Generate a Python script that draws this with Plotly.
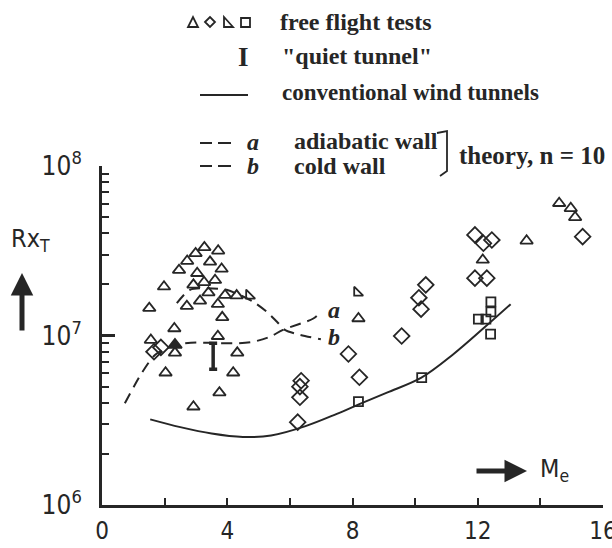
import plotly.graph_objects as go

# ---------------- data (Mach number Me, transition Reynolds number Rx_T) -------------
tri_me = [3.27, 3.71, 2.99, 2.72, 3.45, 2.46, 3.82, 1.98, 3.04, 3.26, 3.61, 2.92, 3.40,
          3.93, 4.30, 1.51, 2.71, 3.13, 3.70, 3.84, 2.31, 3.70, 1.56, 4.32, 2.33, 2.03,
          4.19, 3.75, 2.92, 8.19, 14.60, 14.97, 15.11, 13.56, 12.16]
tri_r = [3.31e7, 3.16e7, 3.05e7, 2.75e7, 2.72e7, 2.43e7, 2.47e7, 1.94e7, 2.33e7, 2.06e7,
         2.12e7, 1.99e7, 1.79e7, 1.73e7, 1.72e7, 1.45e7, 1.49e7, 1.60e7, 1.53e7, 1.28e7,
         1.10e7, 9.9e6, 9.4e6, 7.9e6, 7.9e6, 6.03e6, 6.03e6, 4.60e6, 3.80e6, 1.26e7,
         6.03e7, 5.63e7, 4.98e7, 3.62e7, 2.79e7]

rtri_me = [4.70, 8.15]
rtri_r = [1.72e7, 1.79e7]

filled_me = [2.33]
filled_r = [8.8e6]

dia_me = [1.66, 1.88, 7.87, 8.22, 6.36, 6.32, 6.32, 6.25, 9.57, 10.34, 10.12, 10.19,
          11.91, 12.18, 12.45, 11.91, 12.29, 15.35]
dia_r = [8.02e6, 8.51e6, 7.78e6, 5.67e6, 5.41e6, 4.99e6, 4.32e6, 3.08e6, 9.93e6, 1.99e7,
         1.67e7, 1.43e7, 3.92e7, 3.50e7, 3.66e7, 2.18e7, 2.18e7, 3.83e7]

sq_me = [8.19, 10.21, 12.42, 12.42, 12.02, 12.26, 12.41]
sq_r = [4.07e6, 5.64e6, 1.58e7, 1.38e7, 1.25e7, 1.25e7, 1.02e7]

quiet_me = [3.55]
quiet_lo = [6.32e6]
quiet_hi = [9.0e6]

conv_me = [1.54, 2.5, 3.5, 4.5, 5.4, 6.5, 7.5, 8.2, 9.1, 10.2, 11.2, 12.2, 13.05]
conv_r = [3.2e6, 2.88e6, 2.64e6, 2.52e6, 2.57e6, 2.92e6, 3.45e6, 3.92e6, 4.6e6, 5.64e6,
          7.7e6, 1.11e7, 1.53e7]

a_me = [0.73, 1.27, 1.69, 2.17, 2.49, 3.02, 3.77, 4.30, 4.83, 5.37, 5.78, 6.75, 6.99]
a_r = [3.98e6, 6.01e6, 7.67e6, 8.59e6, 8.91e6, 9.08e6, 9.0e6, 9.0e6, 9.19e6, 9.84e6,
       1.08e7, 1.26e7, 1.38e7]

b_me = [2.39, 2.81, 3.34, 3.98, 4.41, 4.83, 5.26, 5.58, 5.84, 6.32, 6.99]
b_r = [1.55e7, 1.86e7, 1.90e7, 1.86e7, 1.73e7, 1.58e7, 1.38e7, 1.21e7, 1.08e7, 1.01e7, 9.5e6]

x_ticks = [0, 4, 8, 12, 16]
x_ticktext = ["0", "4", "8", "12", "16"]
x_minor = [2, 6, 10, 14]
y_ticks = [1e6, 1e7, 1e8]
y_ticktext = ["10<sup>6</sup>", "10<sup>7</sup>", "10<sup>8</sup>"]
y_minor = [k * 10 ** e for e in (6, 7) for k in range(2, 10)]

# ---------------- layout geometry ----------------
FW, FH = 612, 548
ML, MR, MT, MB = 102, 9, 166, 43
PW, PH = FW - ML - MR, FH - MT - MB


def px(x):
    return (x - ML) / PW


def py(y):
    return (FH - MB - y) / PH


INK = "#262626"
SANS = "Liberation Sans Narrow, DejaVu Sans Condensed, Arial Narrow, sans-serif"
SERIF = "Liberation Serif, Times New Roman, serif"

fig = go.Figure()

# conventional wind tunnels
fig.add_trace(go.Scatter(x=conv_me, y=conv_r, mode="lines",
                         line=dict(color=INK, width=2, shape="spline", smoothing=1.0)))
# theory curves
fig.add_trace(go.Scatter(x=a_me, y=a_r, mode="lines",
                         line=dict(color=INK, width=2, dash="11px,7px", shape="spline", smoothing=0.8)))
fig.add_trace(go.Scatter(x=b_me, y=b_r, mode="lines",
                         line=dict(color=INK, width=2, dash="11px,7px", shape="spline", smoothing=0.8)))

mk_line = dict(color=INK, width=1.8)
fig.add_trace(go.Scatter(x=tri_me, y=tri_r, mode="markers",
                         marker=dict(symbol="triangle-up-open", size=11, color=INK, line=mk_line)))
fig.add_trace(go.Scatter(x=rtri_me, y=rtri_r, mode="markers",
                         marker=dict(symbol="triangle-sw-open", size=10, color=INK, line=mk_line)))
fig.add_trace(go.Scatter(x=filled_me, y=filled_r, mode="markers",
                         marker=dict(symbol="triangle-up", size=12, color=INK, line=mk_line)))
fig.add_trace(go.Scatter(x=dia_me, y=dia_r, mode="markers",
                         marker=dict(symbol="diamond-open", size=12, color=INK, line=mk_line)))
fig.add_trace(go.Scatter(x=sq_me, y=sq_r, mode="markers",
                         marker=dict(symbol="square-open", size=9, color=INK, line=mk_line)))
# quiet tunnel bar
fig.add_trace(go.Scatter(x=quiet_me, y=quiet_lo, mode="markers",
                         marker=dict(size=1, color="rgba(0,0,0,0)"),
                         error_y=dict(type="data", symmetric=False,
                                      array=[h - l for h, l in zip(quiet_hi, quiet_lo)],
                                      arrayminus=[0] * len(quiet_lo),
                                      color=INK, thickness=3.5, width=4)))

annotations = []


def text(x, y, s, size=24, family=SERIF, anchor="left", **kw):
    annotations.append(dict(x=px(x), y=py(y), xref="paper", yref="paper", text=s,
                            showarrow=False, xanchor=anchor, yanchor="middle",
                            font=dict(family=family, size=size, color=INK), **kw))


# legend texts
text(278, 22, "<b>free flight tests</b>")
text(280, 56, "<b>\"quiet tunnel\"</b>")
text(280, 93, "<b>conventional wind tunnels</b>", size=23)
text(292, 141, "<b>adiabatic wall</b>")
text(292, 166, "<b>cold wall</b>")
text(457, 155, "<b>theory, n = 10</b>", size=25)
text(243, 57, "<b>I</b>", size=27, anchor="center")
text(245, 142, "<b><i>a</i></b>", size=24)
text(245, 166, "<b><i>b</i></b>", size=24)
# curve labels
text(326, 310, "<b><i>a</i></b>", size=24)
text(326, 337, "<b><i>b</i></b>", size=24)
# axis titles
text(30, 240, "Rx<sub>T</sub>", size=25, family=SANS, anchor="center")
text(538, 470, "M<sub>e</sub>", size=25, family=SANS)

# arrows
annotations.append(dict(x=px(527), y=py(471), xref="paper", yref="paper", text="",
                        showarrow=True, ax=-52, ay=0, arrowhead=2, arrowsize=0.9,
                        arrowwidth=5, arrowcolor=INK))
annotations.append(dict(x=px(22), y=py(273), xref="paper", yref="paper", text="",
                        showarrow=True, ax=0, ay=59, arrowhead=2, arrowsize=0.9,
                        arrowwidth=5, arrowcolor=INK))

shapes = []
lw = dict(color=INK, width=1.8)


def path(d):
    shapes.append(dict(type="path", xref="paper", yref="paper", path=d, line=lw))


def P(x, y):
    return f"{px(x):.5f},{py(y):.5f}"


# legend glyphs row 1
path(f"M{P(188, 27)} L{P(198, 27)} L{P(193, 17)} Z")
path(f"M{P(205, 22)} L{P(210, 17)} L{P(215, 22)} L{P(210, 27)} Z")
path(f"M{P(224, 17)} L{P(224, 27)} L{P(233, 27)} Z")
path(f"M{P(241, 18)} L{P(250, 18)} L{P(250, 27)} L{P(241, 27)} Z")
# solid line
shapes.append(dict(type="line", xref="paper", yref="paper", x0=px(200), x1=px(248),
                   y0=py(95), y1=py(95), line=dict(color=INK, width=2)))
# dashes
for yy in (143, 166):
    for x0, x1 in ((200, 212), (218, 231)):
        shapes.append(dict(type="line", xref="paper", yref="paper", x0=px(x0), x1=px(x1),
                           y0=py(yy), y1=py(yy), line=dict(color=INK, width=2)))
# bracket
path(f"M{P(437, 133)} L{P(447, 131)} L{P(447, 171)} L{P(440, 176)}")

fig.update_layout(
    width=FW, height=FH,
    margin=dict(l=ML, r=MR, t=MT, b=MB, pad=0, autoexpand=False),
    paper_bgcolor="white", plot_bgcolor="white",
    showlegend=False,
    annotations=annotations, shapes=shapes,
    xaxis=dict(range=[0, 16], tickmode="array", tickvals=x_ticks, ticktext=x_ticktext,
               ticks="inside", ticklen=7, tickwidth=2, tickcolor=INK,
               showline=True, linewidth=3, linecolor=INK, showgrid=False, zeroline=False,
               ticklabelstandoff=2, automargin=False, ticklabeloverflow="allow",
               tickfont=dict(family=SANS, size=24, color=INK),
               minor=dict(tickmode="array", tickvals=x_minor, ticks="inside", ticklen=7,
                          tickwidth=2, tickcolor=INK, showgrid=False)),
    yaxis=dict(type="log", range=[6, 8], tickmode="array", tickvals=y_ticks,
               ticktext=y_ticktext, ticks="inside", ticklen=13, tickwidth=3, tickcolor=INK,
               showline=True, linewidth=3, linecolor=INK, showgrid=False, zeroline=False,
               ticklabelstandoff=12, automargin=False, ticklabeloverflow="allow",
               tickfont=dict(family=SANS, size=26, color=INK),
               minor=dict(tickmode="array", tickvals=y_minor, ticks="inside", ticklen=7,
                          tickwidth=2, tickcolor=INK, showgrid=False)),
)

fig.write_html("out.html")
